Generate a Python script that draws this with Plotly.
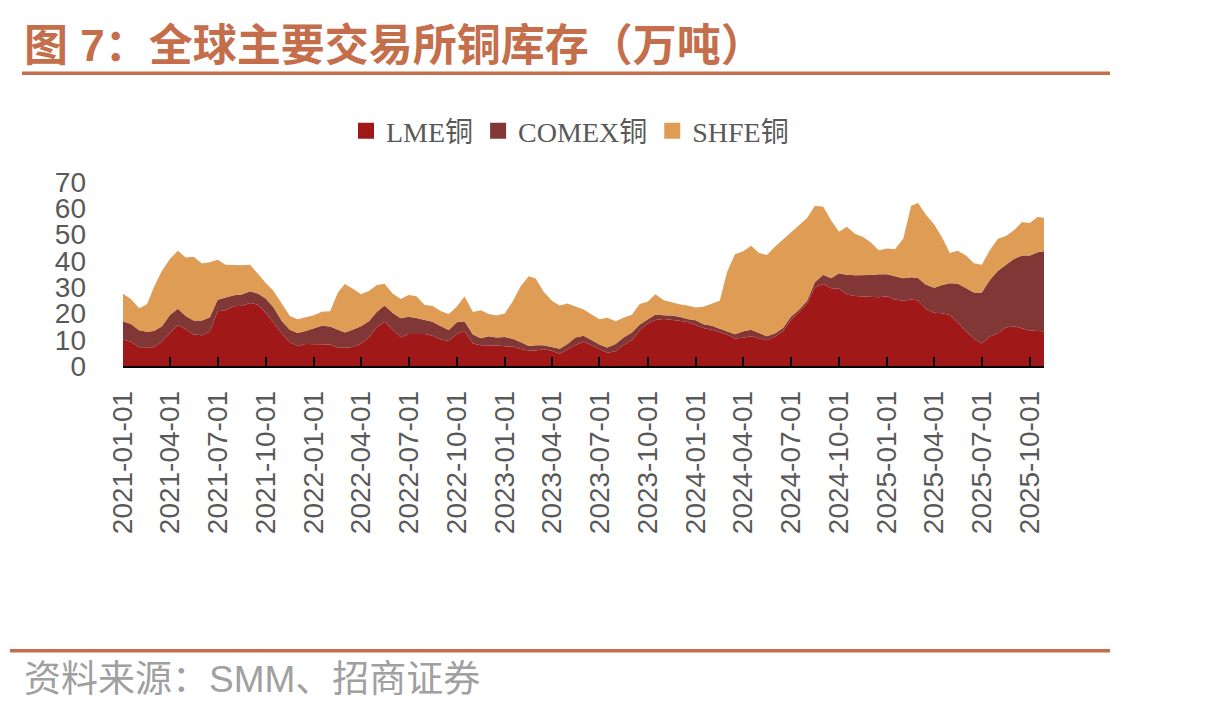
import plotly.graph_objects as go

# ---- data (万吨), semi-monthly readings ----
months = [(y, m) for y in range(2021, 2026) for m in range(1, 13)]
months = [ym for ym in months if ym <= (2025, 10)]
dates = []
for y, m in months:
    dates.append(f"{y}-{m:02d}-01")
    dates.append(f"{y}-{m:02d}-16")
dates = dates[:116] + ["2025-10-28"]

lme = [
    10.1, 9.2, 7.1, 7.1, 7.1, 9.2, 12.5, 15.6, 14.0, 12.0, 11.7, 13.0,
    20.8, 21.2, 22.7, 22.9, 24.0, 23.3, 20.3, 16.5, 12.3, 9.0, 7.6, 8.4,
    8.4, 8.3, 8.2, 6.9, 6.9, 7.2, 8.5, 10.8, 14.6, 16.8, 13.8, 10.9,
    12.2, 12.3, 12.2, 11.5, 10.1, 9.5, 12.2, 13.4, 8.6, 7.9, 7.9, 7.8,
    7.5, 7.4, 6.5, 5.9, 5.9, 6.4, 5.8, 4.7, 6.3, 8.0, 9.2, 7.8,
    6.6, 5.0, 5.6, 8.0, 9.8, 13.5, 16.2, 17.5, 17.9, 17.6, 17.2, 16.7,
    15.7, 14.5, 13.8, 12.9, 12.0, 10.5, 10.7, 11.3, 10.6, 9.8, 11.2, 13.2,
    17.5, 20.3, 23.8, 30.0, 31.2, 29.6, 29.4, 27.2, 26.6, 26.5, 26.5, 26.2,
    26.5, 25.3, 24.8, 25.3, 24.9, 21.8, 20.3, 20.1, 19.4, 16.6, 13.2, 10.5,
    8.6, 11.2, 12.5, 14.6, 15.1, 14.3, 13.5, 13.3, 13.2,
]
comex = [
    6.9, 6.8, 6.5, 5.9, 6.2, 5.8, 7.0, 6.2, 5.0, 5.3, 5.6, 5.5,
    4.4, 4.7, 4.2, 4.3, 4.4, 4.3, 5.4, 5.8, 4.7, 4.8, 5.0, 4.9,
    5.8, 7.0, 6.8, 6.7, 5.8, 6.6, 6.6, 6.2, 5.9, 6.2, 6.4, 7.3,
    6.5, 6.0, 5.4, 5.3, 5.0, 4.2, 4.4, 3.6, 3.4, 2.7, 3.4, 3.0,
    3.5, 3.0, 2.5, 1.7, 2.0, 1.5, 1.4, 1.9, 2.1, 2.8, 2.3, 2.0,
    1.6, 2.0, 2.8, 2.8, 2.9, 2.3, 1.5, 2.1, 1.4, 1.6, 1.5, 1.2,
    1.7, 1.4, 1.5, 1.4, 1.2, 1.6, 2.5, 2.5, 2.0, 1.5, 1.3, 1.3,
    1.2, 1.0, 1.0, 2.0, 3.5, 3.8, 5.9, 7.5, 7.9, 8.0, 8.1, 8.7,
    8.4, 8.8, 8.6, 8.5, 8.6, 9.2, 9.5, 10.7, 12.1, 14.8, 16.4, 17.5,
    19.4, 21.4, 23.7, 24.0, 25.7, 27.7, 28.5, 30.0, 30.5,
]
shfe = [
    10.5, 9.5, 8.4, 10.5, 16.7, 21.0, 21.3, 22.0, 22.3, 24.3, 21.7, 21.0,
    15.2, 12.6, 11.5, 11.1, 10.1, 7.4, 5.9, 6.2, 6.5, 5.2, 5.2, 5.2,
    5.1, 5.3, 5.8, 14.4, 18.5, 15.7, 12.2, 11.5, 10.2, 8.3, 7.3, 7.3,
    8.3, 8.2, 5.6, 6.0, 5.7, 6.1, 5.9, 9.4, 8.5, 10.6, 8.5, 8.4,
    9.0, 14.1, 21.5, 26.5, 25.4, 20.4, 17.6, 16.4, 15.4, 11.8, 10.0, 9.8,
    9.6, 11.4, 8.6, 7.6, 6.8, 7.8, 6.7, 7.7, 5.7, 5.1, 4.8, 5.1,
    4.9, 6.6, 8.3, 10.5, 22.6, 30.4, 30.5, 31.9, 30.4, 30.9, 33.0, 33.7,
    32.3, 32.2, 31.5, 29.0, 25.9, 22.0, 15.8, 18.3, 15.7, 14.6, 12.4, 9.1,
    9.8, 10.3, 15.1, 27.2, 28.5, 26.6, 24.0, 18.2, 11.5, 12.4, 12.4, 11.1,
    10.5, 11.3, 12.2, 10.9, 10.9, 12.8, 12.4, 13.5, 12.6,
]

series_names = ["LME铜", "COMEX铜", "SHFE铜"]
colors = ["#A01818", "#803736", "#DE9C54"]
y_ticks = [0, 10, 20, 30, 40, 50, 60, 70]

W, H = 1220, 713
L, R, T, B = 123, 1044, 182, 366.5


def px(x):
    return (x - L) / (R - L)


def py(y):
    return (B - y) / (B - T)


fig = go.Figure()
for name, vals, col in zip(series_names, [lme, comex, shfe], colors):
    fig.add_trace(go.Scatter(
        x=dates, y=vals, mode="lines", stackgroup="one",
        line=dict(width=0, color=col), fillcolor=col,
        name=name, showlegend=False, hoverinfo="x+y+name",
    ))
for name, col in zip(series_names, colors):
    fig.add_trace(go.Scatter(
        x=[None], y=[None], mode="markers", name=name,
        marker=dict(symbol="square", size=17, color=col),
        showlegend=True,
    ))

title_color = "#C46E4C"
fig.update_layout(
    width=W, height=H,
    margin=dict(l=L, r=W - R, t=T, b=H - B, pad=0),
    paper_bgcolor="white", plot_bgcolor="white",
    showlegend=True,
    legend=dict(
        orientation="h", traceorder="normal",
        x=px(570), xanchor="center", y=py(131), yanchor="middle",
        font=dict(family="Liberation Serif, Noto Sans CJK SC", size=28, color="#595959"),
        itemwidth=30, tracegroupgap=0, bgcolor="rgba(0,0,0,0)",
    ),
    xaxis=dict(
        type="date", range=[dates[0], dates[-1]],
        tick0="2021-01-01", dtick="M3", tickformat="%Y-%m-%d",
        tickangle=-90, ticks="inside", ticklen=9, tickwidth=1.5, tickcolor="black",
        showline=True, linecolor="black", linewidth=1.5,
        showgrid=False, zeroline=False,
        tickfont=dict(family="Liberation Sans, Arial", size=28, color="#595959"),
        ticklabelstandoff=12,
    ),
    yaxis=dict(
        range=[0, 70], tickvals=y_ticks, ticktext=[str(v) for v in y_ticks],
        showgrid=False, zeroline=False, showline=False, ticks="",
        tickfont=dict(family="Liberation Sans, Arial", size=28, color="#595959"),
        ticklabelstandoff=36,
    ),
    annotations=[
        dict(text="图 7：全球主要交易所铜库存（万吨）", xref="paper", yref="paper",
             x=px(22), y=py(45), xanchor="left", yanchor="middle", showarrow=False,
             font=dict(family="Liberation Sans, Noto Sans CJK SC", size=44, color=title_color,
                       weight="bold")),
        dict(text="资料来源：SMM、招商证券", xref="paper", yref="paper",
             x=px(22), y=py(681), xanchor="left", yanchor="middle", showarrow=False,
             font=dict(family="Liberation Sans, Noto Sans CJK SC", size=37, color="#A0A0A0")),
    ],
    shapes=[
        dict(type="line", xref="paper", yref="paper", x0=px(22), x1=px(1110),
             y0=py(73), y1=py(73), line=dict(color=title_color, width=3.5)),
        dict(type="line", xref="paper", yref="paper", x0=px(10), x1=px(1110),
             y0=py(652), y1=py(652), line=dict(color=title_color, width=3.5)),
    ],
)

fig.write_html("out.html")
